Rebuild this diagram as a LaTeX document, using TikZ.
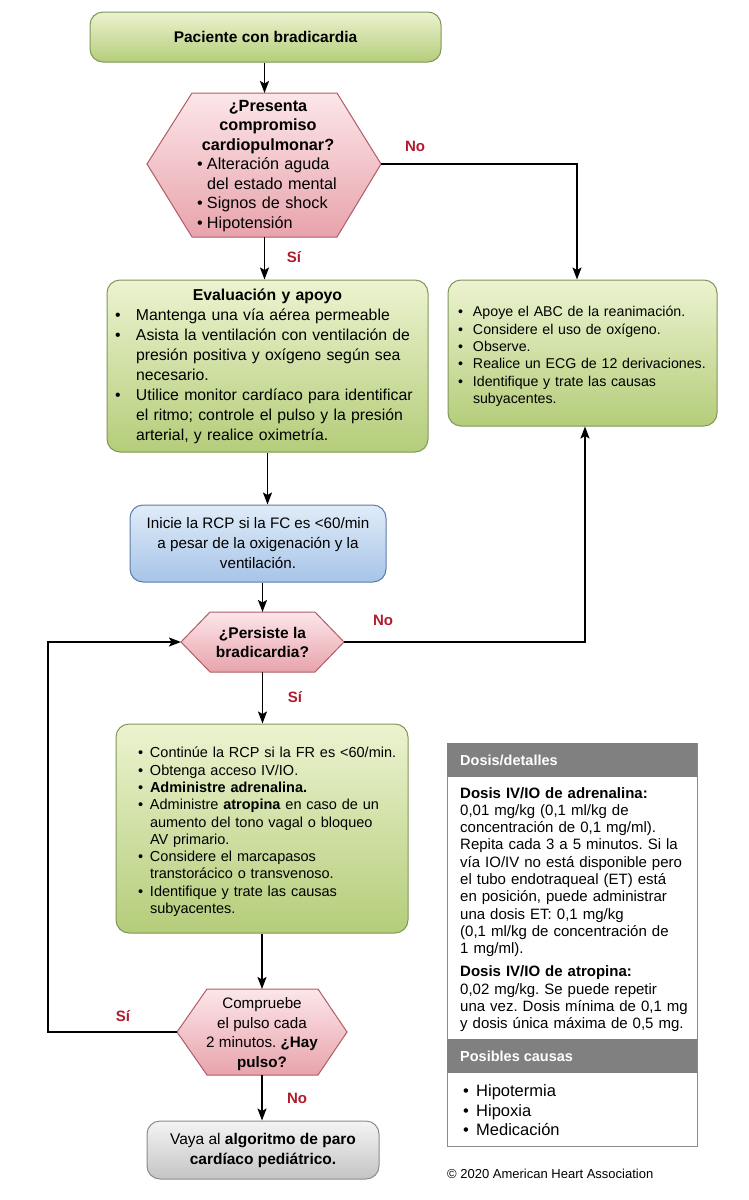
\documentclass[tikz,border=0pt]{standalone}
\usepackage{fontspec}
\setmainfont{Liberation Sans}
\usetikzlibrary{arrows.meta,calc}

\definecolor{gtop}{RGB}{236,243,208}
\definecolor{gbot}{RGB}{180,205,122}
\definecolor{gbrd}{RGB}{128,150,90}
\definecolor{ptop}{RGB}{252,230,233}
\definecolor{pbot}{RGB}{232,163,172}
\definecolor{pbrd}{RGB}{176,92,104}
\definecolor{btop}{RGB}{224,236,248}
\definecolor{bbot}{RGB}{166,196,232}
\definecolor{bbrd}{RGB}{92,124,170}
\definecolor{ytop}{RGB}{244,244,244}
\definecolor{ybot}{RGB}{196,196,196}
\definecolor{ybrd}{RGB}{140,140,140}
\definecolor{lblred}{RGB}{176,28,46}
\definecolor{hdrgray}{RGB}{128,128,128}
\definecolor{panelbrd}{RGB}{140,140,140}

\newcommand\myitem[1][14pt]{\par\noindent\hangindent=#1\hangafter=1\makebox[#1][l]{\textbullet}\ignorespaces}

\tikzset{
  boxbase/.style={line width=1pt, rounded corners=13pt, inner sep=0pt},
  gbox/.style={boxbase, draw=gbrd, top color=gtop, bottom color=gbot},
  bbox/.style={boxbase, draw=bbrd, top color=btop, bottom color=bbot},
  ybox/.style={boxbase, draw=ybrd, top color=ytop, bottom color=ybot},
  hexsty/.style={draw=pbrd, line width=1pt, top color=ptop, bottom color=pbot},
  arr/.style={-{Stealth[length=12pt,width=9pt,inset=2.5pt]}, line width=1.8pt},
  lbl/.style={text=lblred, font=\fontsize{15}{18}\selectfont\bfseries, inner sep=0pt},
  hdr/.style={text=white, font=\fontsize{14.5}{17}\selectfont\bfseries, inner sep=0pt, anchor=west},
}

\begin{document}
\frenchspacing
\begin{tikzpicture}[x=1pt, y=-1pt]
\fill[white] (0,0) rectangle (748,1200);
\useasboundingbox (0,0) rectangle (748,1200);

% ---------- top box
\node[gbox, minimum width=351, minimum height=50, font=\fontsize{15.5}{19}\selectfont\bfseries]
  (start) at (265.5,37) {Paciente con bradicardia};

% ---------- hexagon 1
\coordinate (h1n) at (264.5,93);
\coordinate (h1s) at (264.5,237);
\coordinate (h1w) at (147,164);
\coordinate (h1e) at (381,164);
\path[hexsty] (h1w) -- (192,93) -- (337,93) -- (h1e) -- (337,237) -- (192,237) -- cycle;
\node[text width=142, align=left, inner sep=0pt, font=\fontsize{16.2}{19.5}\selectfont]
  (q1) at (268,166) {%
  \noindent\makebox[\linewidth]{\bfseries ¿Presenta}\par
  \noindent\makebox[\linewidth]{\bfseries compromiso}\par
  \noindent\makebox[\linewidth]{\bfseries cardiopulmonar?}
  \myitem[10pt] Alteración aguda\newline del estado mental
  \myitem[10pt] Signos de shock
  \myitem[10pt] Hipotensión\par};

% ---------- evaluation box
\node[gbox, minimum width=321, minimum height=172, text width=305, align=left,
      font=\fontsize{15.8}{20}\selectfont]
  (eval) at (267.5,366) {%
  \noindent\makebox[\linewidth]{\bfseries Evaluación y apoyo}
  \myitem[21pt] Mantenga una vía aérea permeable
  \myitem[21pt] Asista la ventilación con ventilación de\newline presión positiva y oxígeno según sea\newline necesario.
  \myitem[21pt] Utilice monitor cardíaco para identificar\newline el ritmo; controle el pulso y la presión\newline arterial, y realice oximetría.\par};

% ---------- right box
\node[gbox, minimum width=269, minimum height=146, text width=249, align=left,
      font=\fontsize{14.2}{17.3}\selectfont]
  (rbox) at (582.5,353) {%
  \myitem[15pt] Apoye el ABC de la reanimación.
  \myitem[15pt] Considere el uso de oxígeno.
  \myitem[15pt] Observe.
  \myitem[15pt] Realice un ECG de 12 derivaciones.
  \myitem[15pt] Identifique y trate las causas\newline subyacentes.\par};

% ---------- blue box
\node[bbox, minimum width=256, minimum height=77, align=center,
      font=\fontsize{15.2}{20}\selectfont]
  (blue) at (258,543.5) {Inicie la RCP si la FC es <60/min\\a pesar de la oxigenación y la\\ventilación.};

% ---------- hexagon 2
\coordinate (h2n) at (262.5,612);
\coordinate (h2s) at (262.5,672);
\coordinate (h2w) at (181,642);
\coordinate (h2e) at (344,642);
\path[hexsty] (h2w) -- (210,612) -- (315,612) -- (h2e) -- (315,672) -- (210,672) -- cycle;
\node[align=center, inner sep=0pt, font=\fontsize{15.5}{19}\selectfont\bfseries]
  (q2) at (262.5,642) {¿Persiste la\\bradicardia?};

% ---------- box 3
\node[gbox, minimum width=292, minimum height=209, text width=276, align=left,
      font=\fontsize{14.5}{17.3}\selectfont]
  (box3) at (262,828.5) {%
  \leftskip=14pt
  \myitem[12pt] Continúe la RCP si la FR es <60/min.
  \myitem[12pt] Obtenga acceso IV/IO.
  \myitem[12pt] \textbf{Administre adrenalina.}
  \myitem[12pt] Administre \textbf{atropina} en caso de un\newline aumento del tono vagal o bloqueo\newline AV primario.
  \myitem[12pt] Considere el marcapasos\newline transtorácico o transvenoso.
  \myitem[12pt] Identifique y trate las causas\newline subyacentes.\par};

% ---------- hexagon 3
\coordinate (h3n) at (262,989);
\coordinate (h3s) at (262,1075);
\coordinate (h3w) at (177,1032);
\coordinate (h3e) at (347,1032);
\path[hexsty] (h3w) -- (207,989) -- (318,989) -- (h3e) -- (318,1075) -- (207,1075) -- cycle;
\node[align=center, inner sep=0pt, font=\fontsize{15.2}{19.5}\selectfont]
  (q3) at (262,1034) {Compruebe\\el pulso cada\\2 minutos. \textbf{¿Hay}\\\textbf{pulso?}};

% ---------- final box
\node[ybox, minimum width=232, minimum height=58, align=center,
      font=\fontsize{15.5}{20}\selectfont]
  (final) at (263,1150) {Vaya al \textbf{algoritmo de paro}\\\textbf{cardíaco pediátrico.}};

% ---------- side panel
\draw[panelbrd, line width=1pt] (447,743) rectangle (697,1146);
\fill[hdrgray] (447,743) rectangle (697,777);
\fill[hdrgray] (447,1039) rectangle (697,1073);
\node[hdr] (hdr1) at (460,760) {Dosis/detalles};
\node[hdr] (hdr2) at (460,1056) {Posibles causas};
\node[anchor=north west, text width=236, align=left, inner sep=0pt,
      font=\fontsize{15}{17.3}\selectfont]
  (dose) at (460,787) {%
  \noindent\textbf{Dosis IV/IO de adrenalina:}\newline
  0,01 mg/kg (0,1 ml/kg de\newline
  concentración de 0,1 mg/ml).\newline
  Repita cada 3 a 5 minutos. Si la\newline
  vía IO/IV no está disponible pero\newline
  el tubo endotraqueal (ET) está\newline
  en posición, puede administrar\newline
  una dosis ET: 0,1 mg/kg\newline
  (0,1 ml/kg de concentración de\newline
  1 mg/ml).\par
  \vspace{5.7pt}
  \noindent\textbf{Dosis IV/IO de atropina:}\newline
  0,02 mg/kg. Se puede repetir\newline
  una vez. Dosis mínima de 0,1 mg\newline
  y dosis única máxima de 0,5 mg.\par};
\node[anchor=north west, text width=220, align=left, inner sep=0pt,
      font=\fontsize{16.5}{19.5}\selectfont]
  (causes) at (463,1077) {%
  \myitem[13pt] Hipotermia
  \myitem[13pt] Hipoxia
  \myitem[13pt] Medicación\par};

\node[anchor=west, inner sep=0pt, font=\fontsize{13}{16}\selectfont]
  (copy) at (447,1174) {© 2020 American Heart Association};

% ---------- connectors
\draw[arr] (start.south -| h1n) -- (h1n);
\draw[arr] (h1s) -- (h1s |- eval.north);
\draw[arr] (h1e) -| ([xshift=-5.5pt]rbox.north);
\draw[arr] (eval.south) -- (eval.south |- blue.north);
\draw[arr] (h2n |- blue.south) -- (h2n);
\draw[arr] (h2e) -| ([xshift=2.5pt]rbox.south);
\draw[arr] (h2s) -- (h2s |- box3.north);
\draw[arr] (box3.south -| h3n) -- (h3n);
\draw[arr] (h3s) -- (h3s |- final.north);
\coordinate (loopc) at (48,1032);
\draw[arr] (h3w) -- (loopc) |- (h2w);

% ---------- labels
\node[lbl] (l1no) at (415,146) {No};
\node[lbl] (l1si) at (294,257) {Sí};
\node[lbl] (l2no) at (383,620) {No};
\node[lbl] (l2si) at (295,697) {Sí};
\node[lbl] (l3si) at (123,1016) {Sí};
\node[lbl] (l3no) at (297,1098) {No};
\end{tikzpicture}
\end{document}
